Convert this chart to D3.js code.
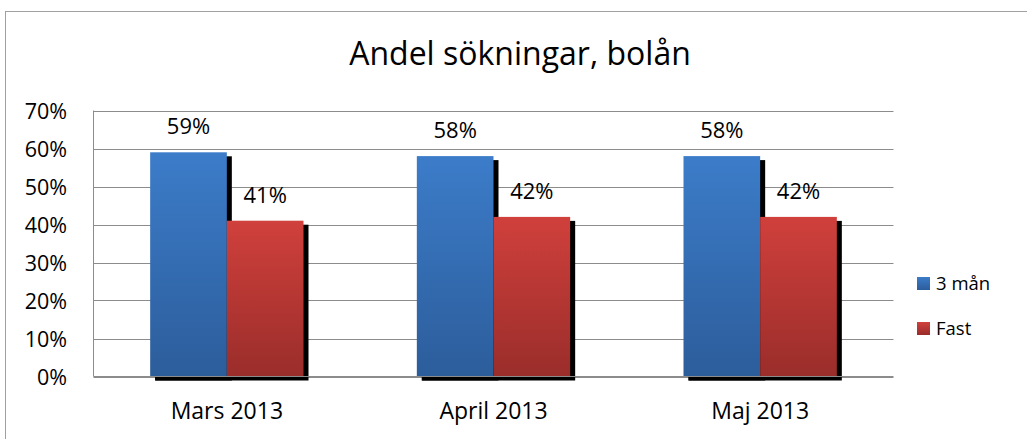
<!DOCTYPE html>
<html><head><meta charset="utf-8">
<script src="https://cdn.jsdelivr.net/npm/d3@7"></script>
<style>body{margin:0;background:#fff}svg{display:block}text{font-family:"Open Sans",sans-serif;fill:#000}</style>
</head><body>
<svg id="c" width="1027" height="439"></svg>
<script>
const title = "Andel sökningar, bolån";
const categories = ["Mars 2013", "April 2013", "Maj 2013"];
const seriesNames = ["3 mån", "Fast"];
const valuesTreMan = [0.59, 0.58, 0.58];
const valuesFast = [0.41, 0.42, 0.42];
const yTicks = [0, 0.1, 0.2, 0.3, 0.4, 0.5, 0.6, 0.7];

const FONT = '"Open Sans",sans-serif';
const series = [valuesTreMan, valuesFast];
const svg = d3.select("#c");
const defs = svg.append("defs");
const grads = [["gBlue", "#3c7cc9", "#2c5d9b"], ["gRed", "#d0403c", "#9a2d2a"]];
grads.forEach(([id, a, b]) => {
  const g = defs.append("linearGradient").attr("id", id).attr("x1", 0).attr("y1", 0).attr("x2", 0).attr("y2", 1);
  g.append("stop").attr("offset", "0%").attr("stop-color", a);
  g.append("stop").attr("offset", "100%").attr("stop-color", b);
});

// outer chart border
svg.append("rect").attr("x", 5.5).attr("y", 11.5).attr("width", 1040).attr("height", 460)
  .attr("fill", "none").attr("stroke", "#a0a0a0").attr("stroke-width", 1);

const L = 93.5, R = 893.5, T = 110.5, B = 376.5;
const y = d3.scaleLinear().domain([0, 0.7]).range([B, T]);
const x0 = d3.scaleBand().domain(categories).range([L, R]).paddingInner(0.425).paddingOuter(0.2125);
const x1 = d3.scaleBand().domain([0, 1]).range([0, x0.bandwidth()]);

// gridlines
svg.append("g").selectAll("line").data(yTicks).join("line")
  .attr("x1", L).attr("x2", R).attr("y1", d => Math.round(y(d)) + 0.5).attr("y2", d => Math.round(y(d)) + 0.5)
  .attr("stroke", "#8c8c8c").attr("stroke-width", 1);
svg.append("line").attr("x1", L).attr("x2", L).attr("y1", T).attr("y2", B).attr("stroke", "#8c8c8c");

// y axis labels
const yAxis = d3.axisLeft(y).tickValues(yTicks).tickFormat(d3.format(".0%")).tickSize(0).tickPadding(0);
const ya = svg.append("g").attr("transform", "translate(67,0)").call(yAxis);
ya.select(".domain").remove();
ya.selectAll("text").attr("font-size", 21.5).attr("font-family", FONT).attr("fill", "#000").attr("dy", "0.36em");

// shadows
const groups = categories.map((c, i) => ({ c, i }));
const sdx = 5, sdy = 4;
svg.append("g").selectAll("rect").data(groups).join("rect")
  .attr("x", d => x0(d.c) + sdx)
  .attr("y", d => y(valuesFast[d.i]) + sdy)
  .attr("width", x0.bandwidth())
  .attr("height", d => B - y(valuesFast[d.i]))
  .attr("fill", "#000");
svg.append("g").selectAll("rect").data(groups).join("rect")
  .attr("x", d => x0(d.c) + x1(0) + sdx)
  .attr("y", d => y(valuesTreMan[d.i]) + sdy)
  .attr("width", x1.bandwidth())
  .attr("height", d => B - y(valuesTreMan[d.i]))
  .attr("fill", "#000");

// bars
series.forEach((vals, s) => {
  svg.append("g").selectAll("rect").data(vals).join("rect")
    .attr("x", (d, i) => x0(categories[i]) + x1(s))
    .attr("y", d => y(d))
    .attr("width", x1.bandwidth())
    .attr("height", d => B - y(d))
    .attr("fill", `url(#${grads[s][0]})`);
  svg.append("g").selectAll("text").data(vals).join("text")
    .attr("x", (d, i) => x0(categories[i]) + x1(s) + x1.bandwidth() / 2)
    .attr("y", d => y(d) - 18)
    .attr("text-anchor", "middle").attr("font-size", 22)
    .text(d => d3.format(".0%")(d));
});
svg.append("line").attr("x1", L).attr("x2", R).attr("y1", B).attr("y2", B).attr("stroke", "#8c8c8c");

// x axis labels
const xAxis = d3.axisBottom(x0).tickSize(0).tickPadding(0);
const xa = svg.append("g").attr("transform", `translate(0,${B})`).call(xAxis);
xa.select(".domain").remove();
xa.selectAll("text").attr("font-size", 23).attr("font-family", FONT).attr("fill", "#000").attr("dy", 0).attr("y", 42);

// title
svg.append("text").attr("x", 520).attr("y", 65).attr("text-anchor", "middle").attr("font-size", 32).text(title);

// legend
const leg = svg.append("g").selectAll("g").data(seriesNames).join("g")
  .attr("transform", (d, i) => `translate(917,${277 + i * 45})`);
leg.append("rect").attr("width", 13).attr("height", 13).attr("fill", (d, i) => `url(#${grads[i][0]})`);
leg.append("text").attr("x", 19).attr("y", 13).attr("font-size", 18.5).text(d => d);
</script>
</body></html>
